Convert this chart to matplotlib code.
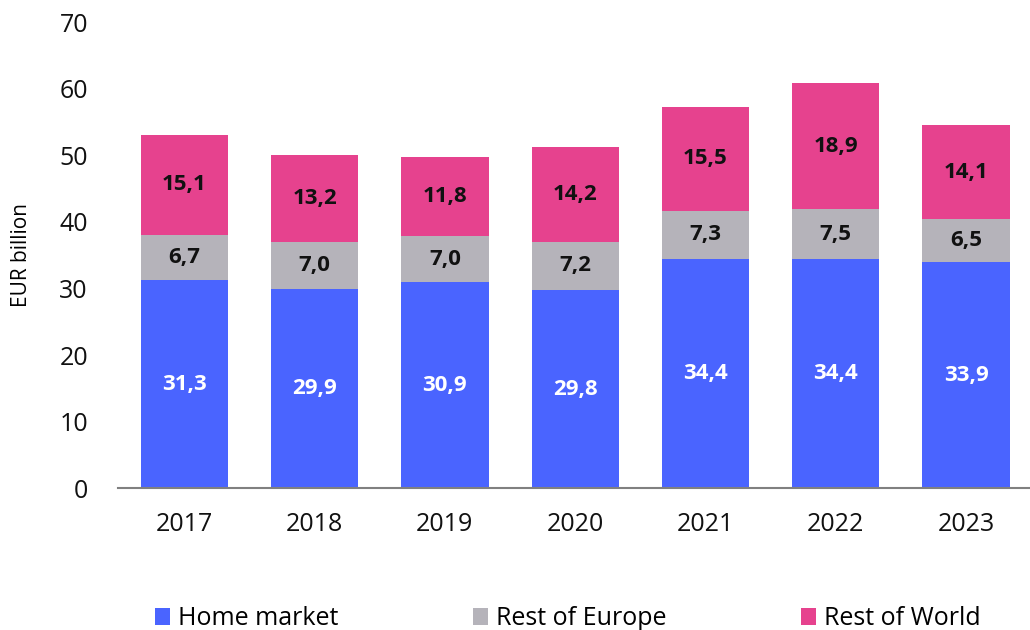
import matplotlib
matplotlib.use("Agg")
import matplotlib.pyplot as plt
import numpy as np

plt.rcParams["font.family"] = ["Open Sans", "DejaVu Sans"]

years = ["2017", "2018", "2019", "2020", "2021", "2022", "2023"]
home_market = [31.3, 29.9, 30.9, 29.8, 34.4, 34.4, 33.9]
rest_of_europe = [6.7, 7.0, 7.0, 7.2, 7.3, 7.5, 6.5]
rest_of_world = [15.1, 13.2, 11.8, 14.2, 15.5, 18.9, 14.1]

series = [
    ("Home market", home_market, "#4A64FF", "white"),
    ("Rest of Europe", rest_of_europe, "#B5B3BA", "#111111"),
    ("Rest of World", rest_of_world, "#E6428E", "#111111"),
]

fig = plt.figure(figsize=(10.3, 6.3), dpi=100)
ax = fig.add_axes([0.115, 0.225, 0.885, 0.74])

x = np.arange(len(years))
bottom = np.zeros(len(years))
for name, vals, color, txt in series:
    vals = np.array(vals)
    ax.bar(x, vals, 0.67, bottom=bottom, color=color, label=name)
    for xi, b, v in zip(x, bottom, vals):
        ax.text(xi, b + v / 2, f"{v:.1f}".replace(".", ","), ha="center", va="center",
                fontsize=16, fontweight="bold", color=txt)
    bottom += vals

ax.set_xlim(-0.505, 6.49)
ax.set_ylim(0, 70)
ax.set_yticks(range(0, 71, 10))
ax.set_xticks(x)
ax.set_xticklabels(years)
ax.tick_params(axis="both", length=0, labelsize=18, colors="#111111")
ax.tick_params(axis="x", pad=17)
ax.tick_params(axis="y", pad=22)
ax.set_ylabel("EUR billion", fontsize=15)
ax.yaxis.set_label_coords(-0.095, 0.5)
for s in ["top", "right", "left"]:
    ax.spines[s].set_visible(False)
ax.spines["bottom"].set_color("#808080")
ax.spines["bottom"].set_linewidth(1.5)

ax.legend(loc="center", bbox_to_anchor=(0.493, -0.28), ncol=3, frameon=False,
          fontsize=18, handlelength=0.6, handleheight=0.7, handletextpad=0.3,
          columnspacing=5.4)

plt.savefig("out.png", dpi=100)
